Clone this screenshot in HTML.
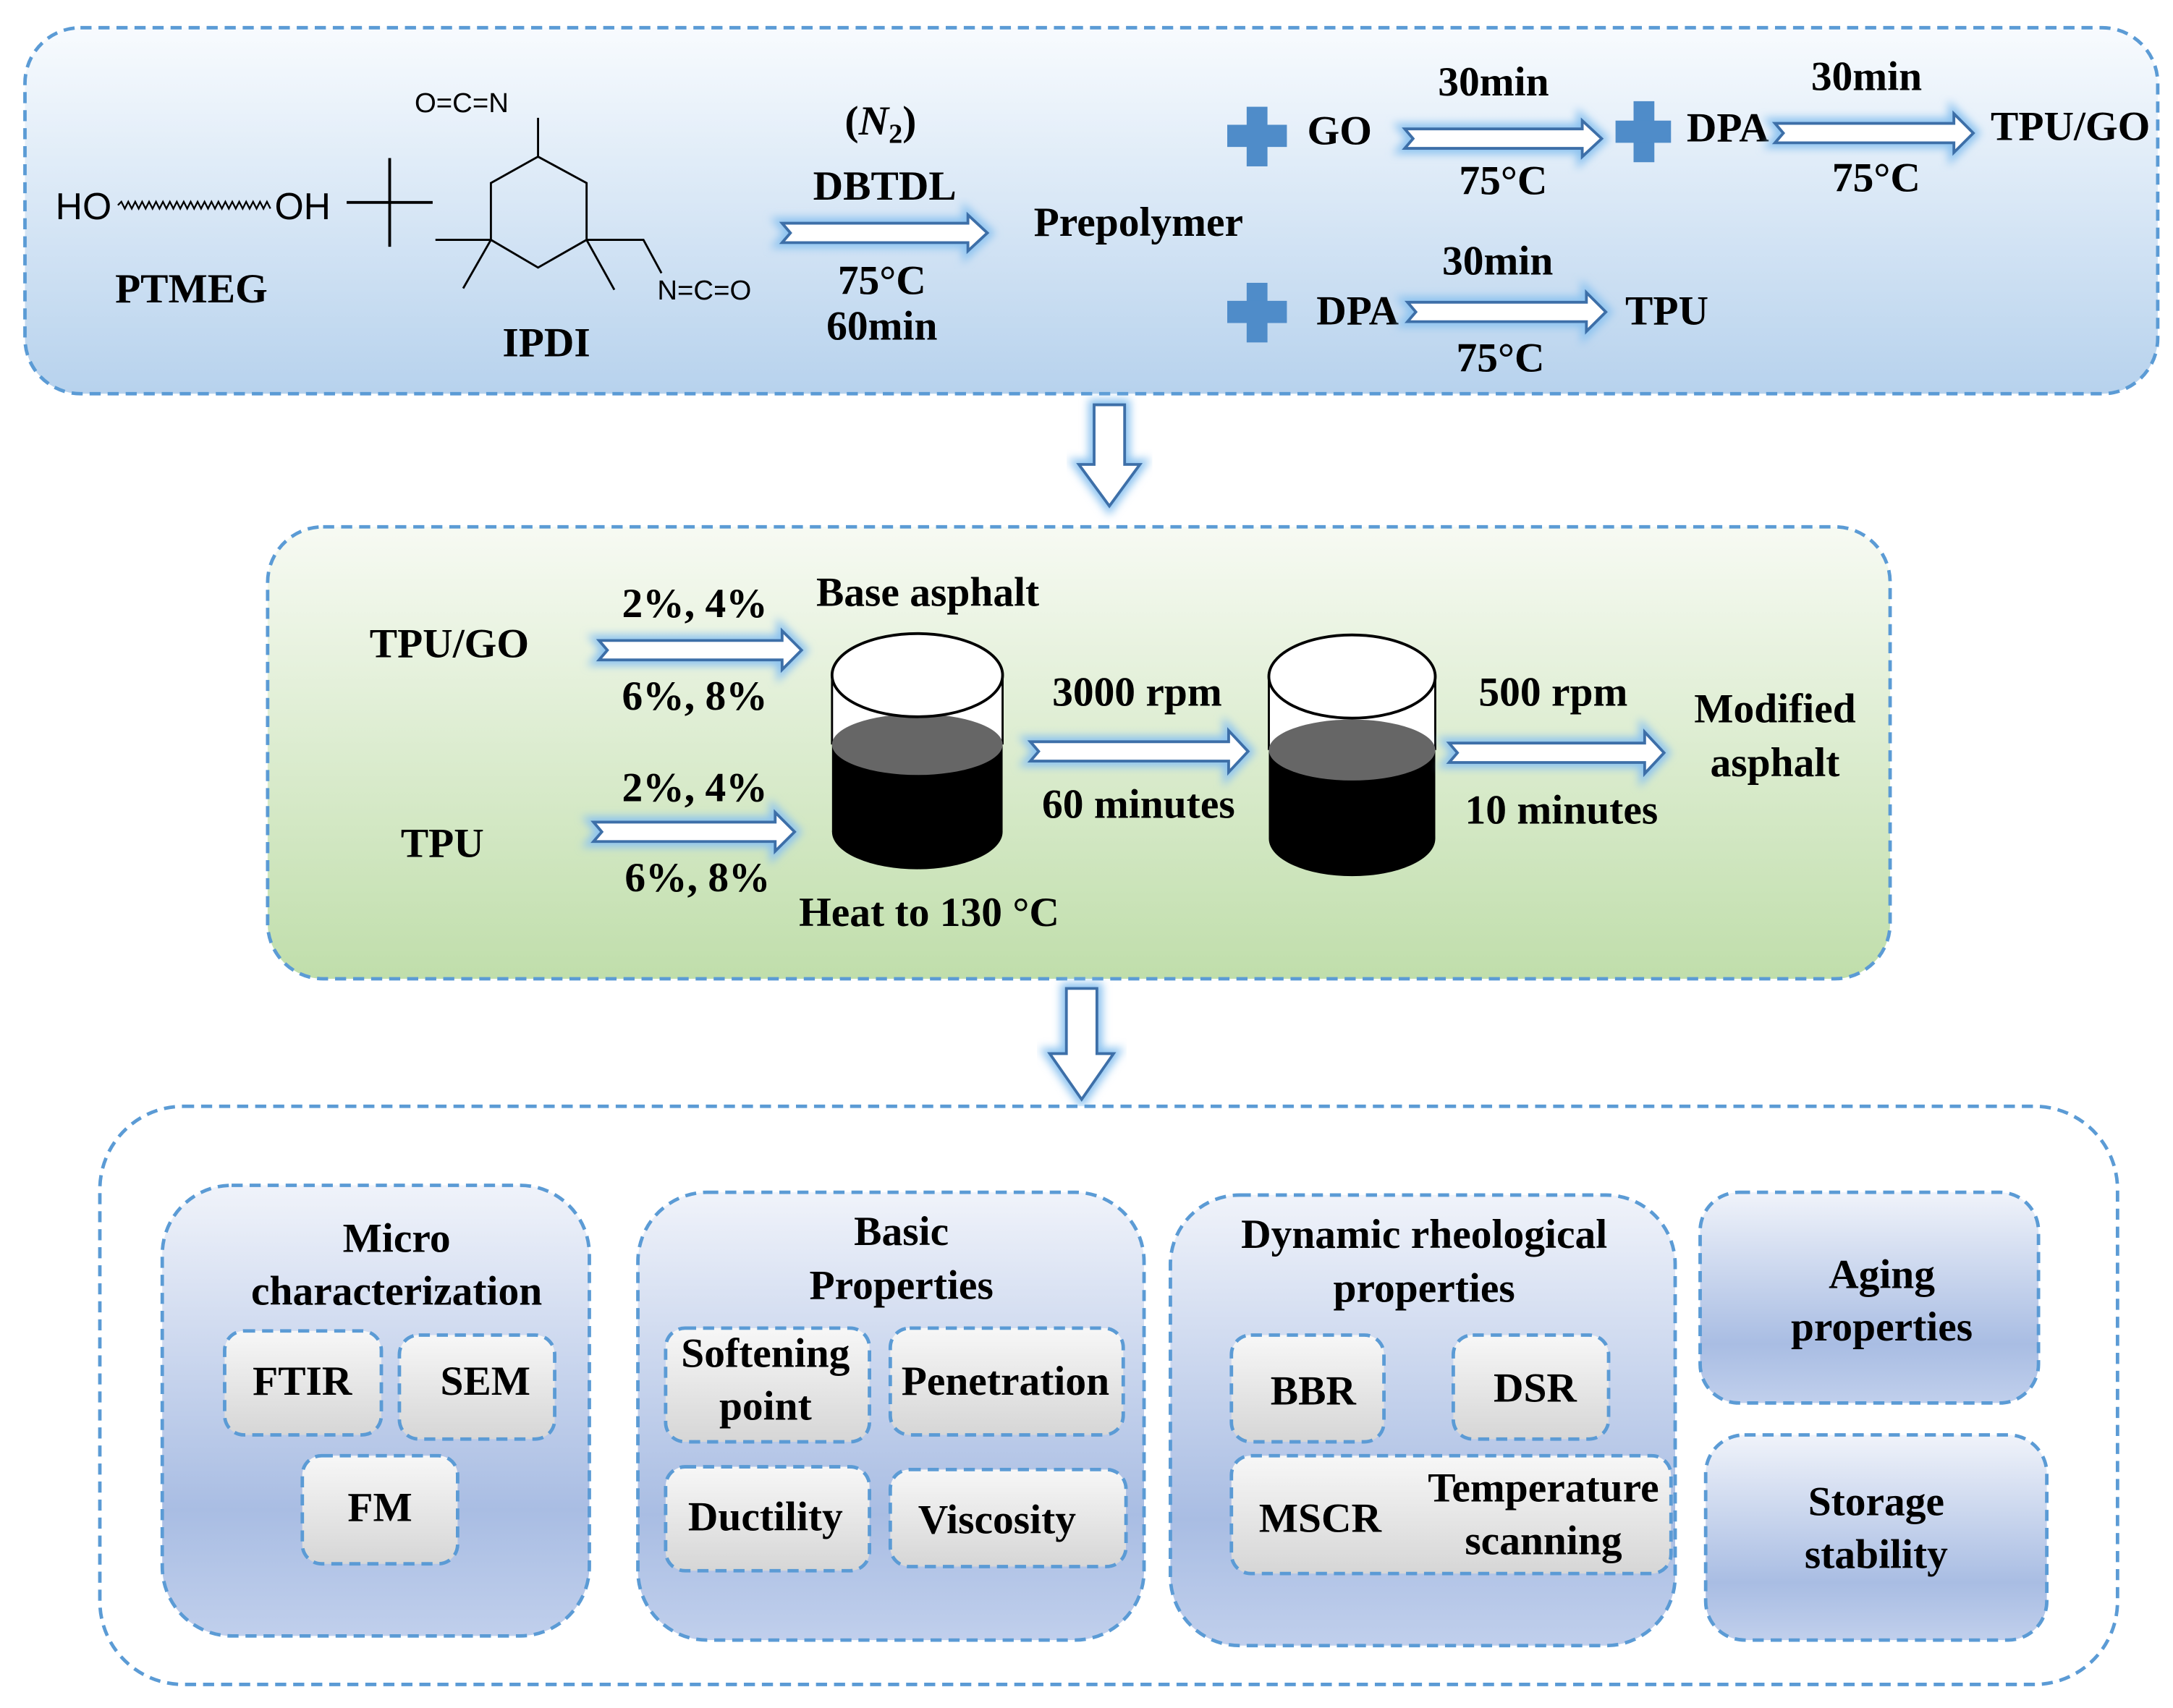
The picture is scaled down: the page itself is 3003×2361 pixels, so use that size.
<!DOCTYPE html>
<html><head><meta charset="utf-8"><style>
html,body{margin:0;padding:0;background:#fff;}
svg{display:block;}
.t{font-family:"Liberation Serif",serif;font-weight:bold;font-size:30px;fill:#000;}
.s{font-family:"Liberation Sans",sans-serif;fill:#000;}
.box{stroke:#5b9bd5;stroke-width:2.5;stroke-dasharray:8 5;}
.ar{fill:#fff;stroke:#3d6fa8;stroke-width:2;}
.gl{fill:#8cc3f0;stroke:#8cc3f0;stroke-width:8;filter:url(#blur);}
</style></head><body>
<svg width="3003" height="2361" viewBox="0 0 1567 1232" xmlns="http://www.w3.org/2000/svg">
<defs>
<linearGradient id="gTop" x1="0" y1="0" x2="0" y2="1"><stop offset="0" stop-color="#f8fbfe"/><stop offset="1" stop-color="#b7d2ed"/></linearGradient>
<linearGradient id="gMid" x1="0" y1="0" x2="0" y2="1"><stop offset="0" stop-color="#f7faf3"/><stop offset="1" stop-color="#c0deab"/></linearGradient>
<linearGradient id="gSub" x1="0" y1="0" x2="0" y2="1"><stop offset="0" stop-color="#f0f3fa"/><stop offset="0.72" stop-color="#a9bde3"/><stop offset="1" stop-color="#c0cfec"/></linearGradient>
<linearGradient id="gItem" x1="0" y1="0" x2="0" y2="1"><stop offset="0" stop-color="#f7f7f7"/><stop offset="1" stop-color="#d6d6d6"/></linearGradient>
<filter id="blur" x="-20%" y="-50%" width="140%" height="200%"><feGaussianBlur stdDeviation="3"/></filter>
</defs>

<!-- top box -->
<rect class="box" x="18" y="20" width="1538" height="264" rx="40" fill="url(#gTop)"/>
<text class="s" x="40" y="158" font-size="27">HO</text>
<path d="M85 148 l2.5 -2.5 l2.5 5 l2.5 -5 l2.5 5 l2.5 -5 l2.5 5 l2.5 -5 l2.5 5 l2.5 -5 l2.5 5 l2.5 -5 l2.5 5 l2.5 -5 l2.5 5 l2.5 -5 l2.5 5 l2.5 -5 l2.5 5 l2.5 -5 l2.5 5 l2.5 -5 l2.5 5 l2.5 -5 l2.5 5 l2.5 -5 l2.5 5 l2.5 -5 l2.5 5 l2.5 -5 l2.5 5 l2.5 -5 l2.5 5 l2.5 -5 l2.5 5 l2.5 -5 l2.5 5 l2.5 -5 l2.5 5 l2.5 -5 l2.5 5 l2.5 -5 l2.5 5 l2.5 -5 l2.5 5" fill="none" stroke="#000" stroke-width="1.2"/>
<text class="s" x="198" y="158" font-size="27">OH</text>
<path d="M250 146 H312 M281 114 V178" stroke="#000" stroke-width="2"/>
<text class="t" x="138" y="218" text-anchor="middle">PTMEG</text>
<text class="s" x="299" y="81" font-size="20">O=C=N</text>
<path d="M388 85 V113 M388 113 L423 132 V173 L388 193 L354 173 V132 Z M354 173 H314 M354 173 L334 208 M423 173 L443 209 M423 173 H464 L477 197" fill="none" stroke="#000" stroke-width="1.5"/>
<text class="s" x="474" y="216" font-size="20">N=C=O</text>
<text class="t" x="394" y="257" text-anchor="middle">IPDI</text>
<text class="t" x="635" y="97" text-anchor="middle" font-weight="normal">(<tspan font-style="italic">N</tspan><tspan font-size="20" dy="6">2</tspan><tspan dy="-6">)</tspan></text>
<text class="t" x="638" y="144" text-anchor="middle">DBTDL</text>
<path class="gl" d="M564 161 L698 161 L698 155 L712 168 L698 181 L698 175 L564 175 L570 168Z"/>
<path class="ar" d="M564 161 L698 161 L698 155 L712 168 L698 181 L698 175 L564 175 L570 168Z"/>
<text class="t" x="636" y="212" text-anchor="middle">75°C</text>
<text class="t" x="636" y="245" text-anchor="middle">60min</text>
<text class="t" x="821" y="170" text-anchor="middle">Prepolymer</text>

<g fill="#4f8cc9">
<rect x="899" y="77" width="15" height="43"/><rect x="885" y="90" width="43" height="16"/>
<rect x="1178" y="73" width="15" height="44"/><rect x="1165" y="87" width="40" height="16"/>
<rect x="899" y="204" width="15" height="43"/><rect x="885" y="217" width="43" height="16"/>
</g>
<text class="t" x="966" y="104" text-anchor="middle">GO</text>
<text class="t" x="1077" y="69" text-anchor="middle">30min</text>
<path class="gl" d="M1013 93 L1141 93 L1141 87 L1155 100 L1141 113 L1141 107 L1013 107 L1019 100Z"/>
<path class="ar" d="M1013 93 L1141 93 L1141 87 L1155 100 L1141 113 L1141 107 L1013 107 L1019 100Z"/>
<text class="t" x="1084" y="140" text-anchor="middle">75°C</text>
<text class="t" x="1246" y="102" text-anchor="middle">DPA</text>
<text class="t" x="1346" y="65" text-anchor="middle">30min</text>
<path class="gl" d="M1280 89 L1409 89 L1409 82 L1423 96 L1409 110 L1409 103 L1280 103 L1286 96Z"/>
<path class="ar" d="M1280 89 L1409 89 L1409 82 L1423 96 L1409 110 L1409 103 L1280 103 L1286 96Z"/>
<text class="t" x="1353" y="138" text-anchor="middle">75°C</text>
<text class="t" x="1493" y="101" text-anchor="middle">TPU/GO</text>
<text class="t" x="979" y="234" text-anchor="middle">DPA</text>
<text class="t" x="1080" y="198" text-anchor="middle">30min</text>
<path class="gl" d="M1015 218 L1144 218 L1144 211 L1158 225 L1144 239 L1144 232 L1015 232 L1021 225Z"/>
<path class="ar" d="M1015 218 L1144 218 L1144 211 L1158 225 L1144 239 L1144 232 L1015 232 L1021 225Z"/>
<text class="t" x="1082" y="268" text-anchor="middle">75°C</text>
<text class="t" x="1202" y="234" text-anchor="middle">TPU</text>

<!-- down arrow 1 -->
<path class="gl" d="M789 292 L811 292 L811 335 L822 335 L800 365 L778 335 L789 335Z"/>
<path class="ar" d="M789 292 L811 292 L811 335 L822 335 L800 365 L778 335 L789 335Z"/>

<!-- middle box -->
<rect class="box" x="193" y="380" width="1170" height="326" rx="40" fill="url(#gMid)"/>
<text class="t" x="324" y="474" text-anchor="middle">TPU/GO</text>
<text class="t" x="501" y="445" text-anchor="middle">2%, 4%</text>
<path class="gl" d="M432 462 L564 462 L564 455 L578 469 L564 483 L564 476 L432 476 L438 469Z"/>
<path class="ar" d="M432 462 L564 462 L564 455 L578 469 L564 483 L564 476 L432 476 L438 469Z"/>
<text class="t" x="501" y="512" text-anchor="middle">6%, 8%</text>
<text class="t" x="319" y="618" text-anchor="middle">TPU</text>
<text class="t" x="501" y="578" text-anchor="middle">2%, 4%</text>
<path class="gl" d="M428 593 L559 593 L559 586 L573 600 L559 614 L559 607 L428 607 L434 600Z"/>
<path class="ar" d="M428 593 L559 593 L559 586 L573 600 L559 614 L559 607 L428 607 L434 600Z"/>
<text class="t" x="503" y="643" text-anchor="middle">6%, 8%</text>
<text class="t" x="669" y="437" text-anchor="middle">Base asphalt</text>
<text class="t" x="670" y="668" text-anchor="middle">Heat to 130 °C</text>
<!-- cylinder 1 -->
<rect x="600" y="487" width="123" height="50" fill="#fff"/>
<path d="M600 487 V537 M723 487 V537" stroke="#000" stroke-width="1.5"/>
<rect x="600" y="537" width="123" height="63" fill="#000"/>
<ellipse cx="661.5" cy="600" rx="61.5" ry="27" fill="#000"/>
<ellipse cx="661.5" cy="537" rx="61.5" ry="22" fill="#666"/>
<ellipse cx="661.5" cy="487" rx="61.5" ry="30" fill="#fff" stroke="#000" stroke-width="2"/>
<!-- cylinder 2 -->
<rect x="915" y="488" width="120" height="53" fill="#fff"/>
<path d="M915 488 V541 M1035 488 V541" stroke="#000" stroke-width="1.5"/>
<rect x="915" y="541" width="120" height="64" fill="#000"/>
<ellipse cx="975" cy="605" rx="60" ry="27" fill="#000"/>
<ellipse cx="975" cy="541" rx="60" ry="22" fill="#666"/>
<ellipse cx="975" cy="488" rx="60" ry="30" fill="#fff" stroke="#000" stroke-width="2"/>
<text class="t" x="820" y="509" text-anchor="middle">3000 rpm</text>
<path class="gl" d="M743 535 L886 535 L886 527 L900 542 L886 557 L886 549 L743 549 L749 542Z"/>
<path class="ar" d="M743 535 L886 535 L886 527 L900 542 L886 557 L886 549 L743 549 L749 542Z"/>
<text class="t" x="821" y="590" text-anchor="middle">60 minutes</text>
<text class="t" x="1120" y="509" text-anchor="middle">500 rpm</text>
<path class="gl" d="M1045 536 L1186 536 L1186 528 L1200 543 L1186 558 L1186 550 L1045 550 L1051 543Z"/>
<path class="ar" d="M1045 536 L1186 536 L1186 528 L1200 543 L1186 558 L1186 550 L1045 550 L1051 543Z"/>
<text class="t" x="1126" y="594" text-anchor="middle">10 minutes</text>
<text class="t" x="1280" y="521" text-anchor="middle">Modified</text>
<text class="t" x="1280" y="560" text-anchor="middle">asphalt</text>

<!-- down arrow 2 -->
<path class="gl" d="M769 713 L791 713 L791 760 L803 760 L780 793 L757 760 L769 760Z"/>
<path class="ar" d="M769 713 L791 713 L791 760 L803 760 L780 793 L757 760 L769 760Z"/>

<!-- bottom box -->
<rect class="box" x="72" y="798" width="1455" height="417" rx="60" fill="#fff"/>
<rect class="box" x="117" y="855" width="308" height="325" rx="50" fill="url(#gSub)"/>
<rect class="box" x="460" y="860" width="365" height="323" rx="50" fill="url(#gSub)"/>
<rect class="box" x="844" y="862" width="364" height="325" rx="50" fill="url(#gSub)"/>
<rect class="box" x="1226" y="860" width="244" height="152" rx="28" fill="url(#gSub)"/>
<rect class="box" x="1230" y="1035" width="246" height="148" rx="28" fill="url(#gSub)"/>

<rect class="box" x="162" y="960" width="113" height="75" rx="14" fill="url(#gItem)"/>
<rect class="box" x="288" y="963" width="112" height="75" rx="14" fill="url(#gItem)"/>
<rect class="box" x="218" y="1050" width="112" height="78" rx="14" fill="url(#gItem)"/>
<rect class="box" x="480" y="958" width="147" height="82" rx="14" fill="url(#gItem)"/>
<rect class="box" x="642" y="958" width="168" height="77" rx="14" fill="url(#gItem)"/>
<rect class="box" x="480" y="1058" width="147" height="75" rx="14" fill="url(#gItem)"/>
<rect class="box" x="642" y="1060" width="170" height="70" rx="14" fill="url(#gItem)"/>
<rect class="box" x="888" y="963" width="110" height="77" rx="14" fill="url(#gItem)"/>
<rect class="box" x="1048" y="963" width="112" height="75" rx="14" fill="url(#gItem)"/>
<rect class="box" x="888" y="1050" width="317" height="85" rx="14" fill="url(#gItem)"/>

<text class="t" x="286" y="903" text-anchor="middle">Micro</text>
<text class="t" x="286" y="941" text-anchor="middle">characterization</text>
<text class="t" x="218" y="1006" text-anchor="middle">FTIR</text>
<text class="t" x="350" y="1006" text-anchor="middle">SEM</text>
<text class="t" x="274" y="1097" text-anchor="middle">FM</text>
<text class="t" x="650" y="898" text-anchor="middle">Basic</text>
<text class="t" x="650" y="937" text-anchor="middle">Properties</text>
<text class="t" x="552" y="986" text-anchor="middle">Softening</text>
<text class="t" x="552" y="1024" text-anchor="middle">point</text>
<text class="t" x="725" y="1006" text-anchor="middle">Penetration</text>
<text class="t" x="552" y="1104" text-anchor="middle">Ductility</text>
<text class="t" x="719" y="1106" text-anchor="middle">Viscosity</text>
<text class="t" x="1027" y="900" text-anchor="middle">Dynamic rheological</text>
<text class="t" x="1027" y="939" text-anchor="middle">properties</text>
<text class="t" x="947" y="1013" text-anchor="middle">BBR</text>
<text class="t" x="1107" y="1011" text-anchor="middle">DSR</text>
<text class="t" x="952" y="1105" text-anchor="middle">MSCR</text>
<text class="t" x="1113" y="1083" text-anchor="middle">Temperature</text>
<text class="t" x="1113" y="1121" text-anchor="middle">scanning</text>
<text class="t" x="1357" y="929" text-anchor="middle">Aging</text>
<text class="t" x="1357" y="967" text-anchor="middle">properties</text>
<text class="t" x="1353" y="1093" text-anchor="middle">Storage</text>
<text class="t" x="1353" y="1131" text-anchor="middle">stability</text>
</svg>
</body></html>
